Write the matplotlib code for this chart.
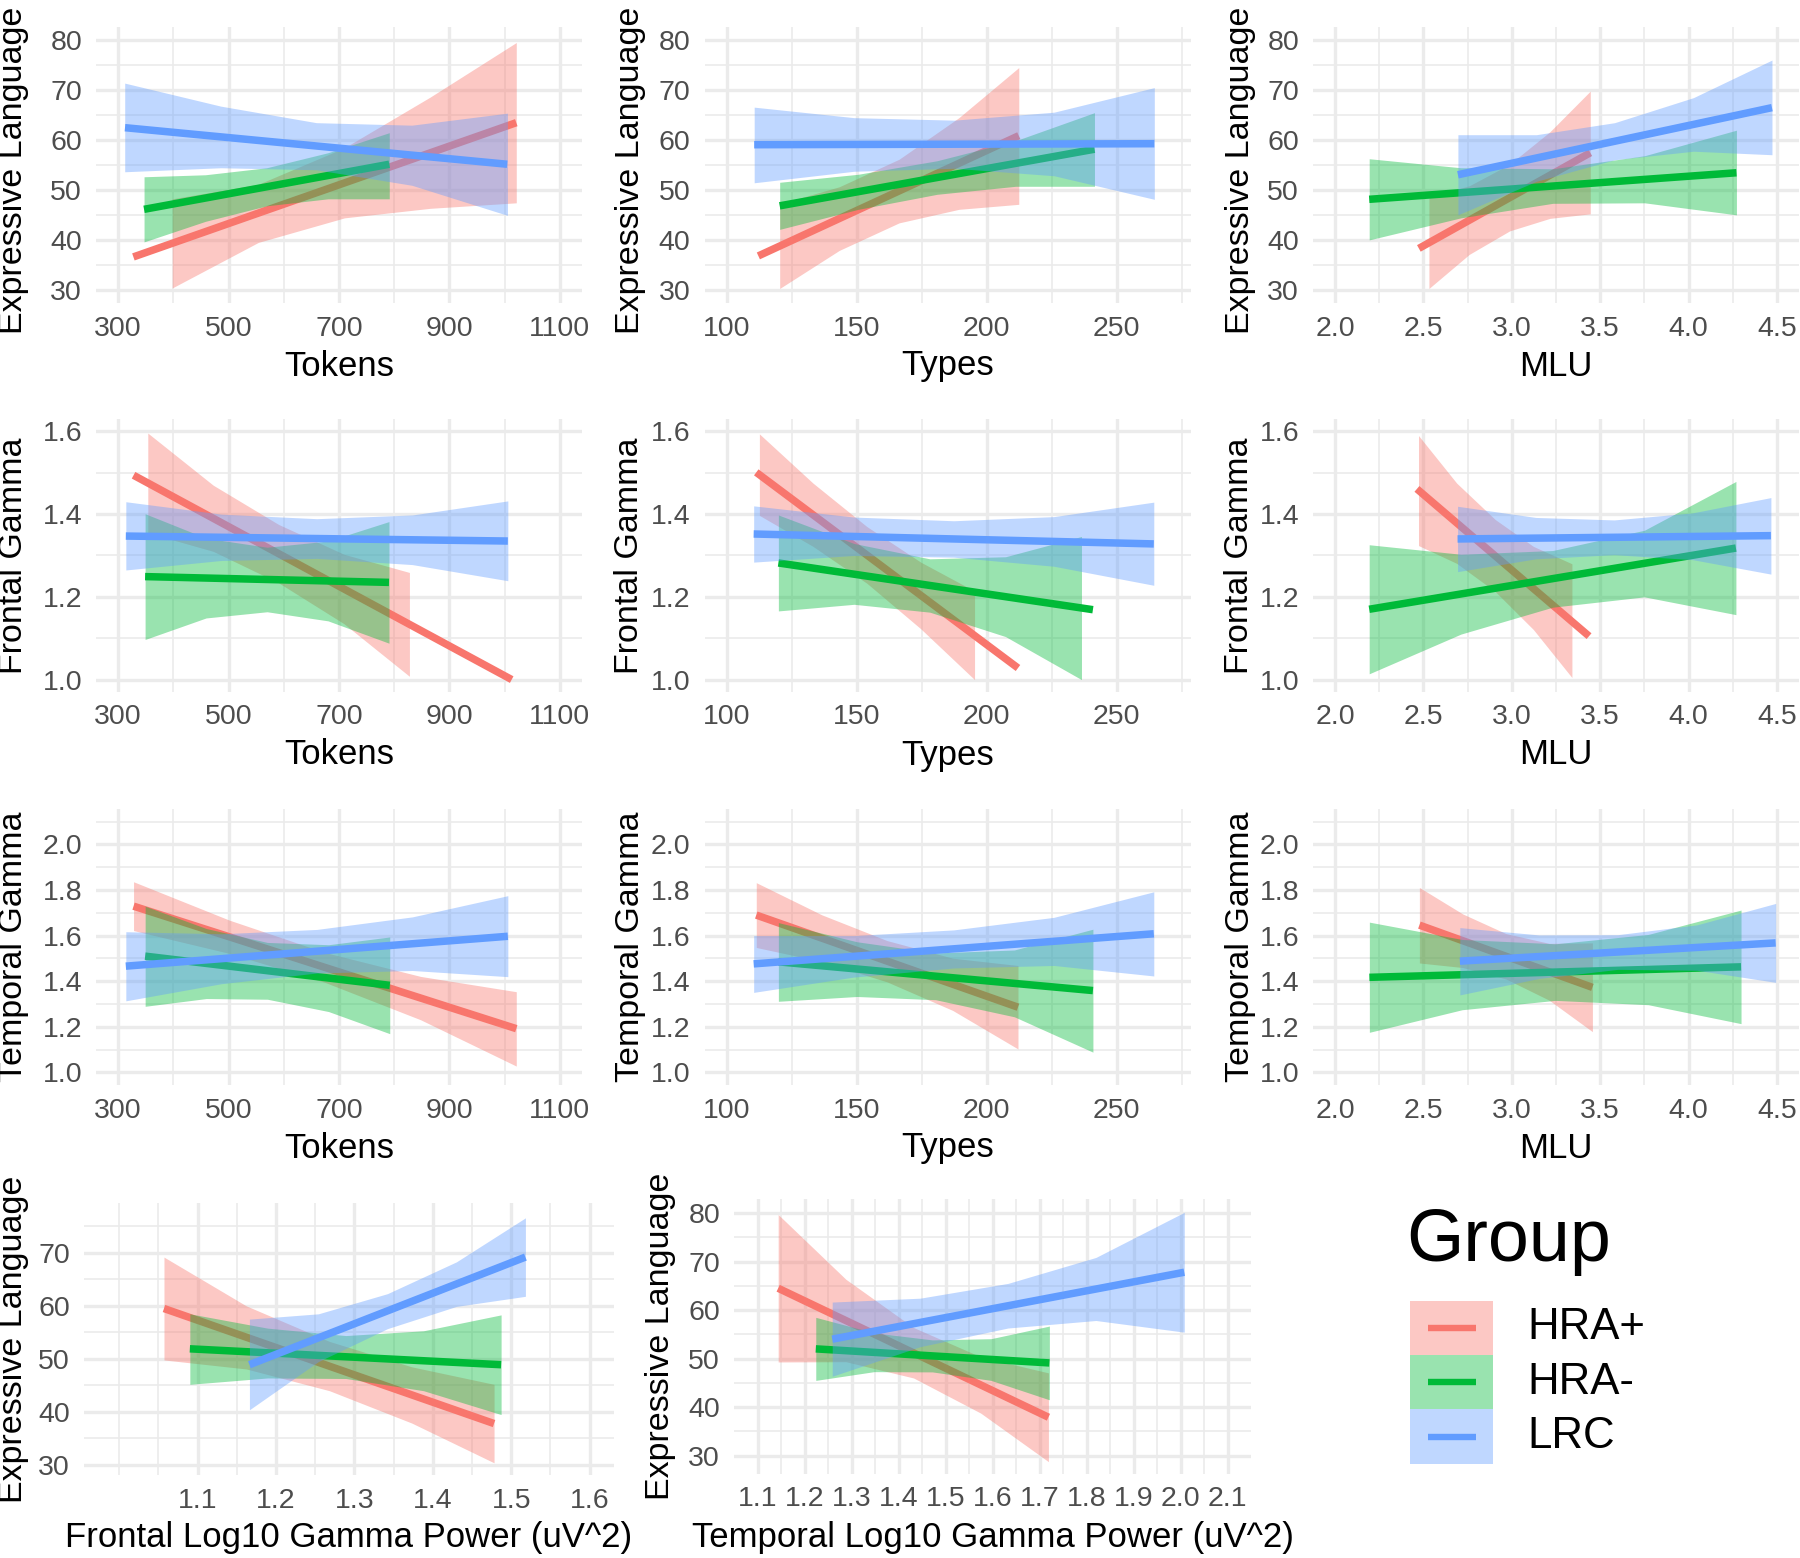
import matplotlib.pyplot as plt
from matplotlib.patches import Rectangle

plt.rcParams['font.family'] = ['Liberation Sans', 'DejaVu Sans']

groups = ['HRA+', 'HRA-', 'LRC']
colors = ['#F8766D', '#00BA38', '#619CFF']

# each fit: [x start, x end, y start, y end]; bands: x / lower / upper, one row per group
tokens_el_fit = [[327.7, 1021, 36.7, 63.5], [347, 791, 46.2, 55.2], [312.5, 1004.5, 62.5, 55.2]]
tokens_el_x = [[398, 554, 710, 865, 1021], [347, 458, 569, 680, 791], [312, 486, 659, 832, 1005]]
tokens_el_lo = [[30.5, 39.6, 44.5, 46.4, 47.5], [39.7, 43.8, 46.9, 48.3, 48.3], [53.7, 54.5, 54.1, 51.0, 45.0]]
tokens_el_hi = [[48.3, 51.2, 58.5, 68.6, 79.5], [52.7, 53.1, 54.5, 57.5, 61.5], [71.4, 66.8, 63.5, 63.0, 65.4]]

types_el_fit = [[112.2, 212.3, 36.9, 60.9], [120.4, 241.4, 46.9, 58.2], [110.6, 264.4, 59.1, 59.3]]
types_el_x = [[120.4, 143.3, 166.3, 189.3, 212.3], [120.4, 150.6, 180.9, 211.1, 241.4], [110.6, 149.0, 187.5, 225.9, 264.4]]
types_el_lo = [[30.4, 38.0, 43.5, 46.2, 47.2], [42.2, 46.2, 49.2, 50.8, 50.8], [51.5, 53.8, 54.4, 52.9, 48.2]]
types_el_hi = [[47.3, 50.7, 56.2, 64.5, 74.5], [51.6, 53.2, 55.9, 59.9, 65.5], [66.6, 64.5, 64.0, 65.6, 70.5]]

mlu_el_fit = [[2.474, 3.444, 38.4, 57.5], [2.193, 4.271, 48.2, 53.5], [2.695, 4.472, 53.1, 66.5]]
mlu_el_x = [[2.531, 2.759, 2.988, 3.216, 3.444], [2.193, 2.712, 3.232, 3.751, 4.271], [2.695, 3.139, 3.582, 4.028, 4.472]]
mlu_el_lo = [[30.4, 37.2, 41.9, 44.4, 45.3], [40.1, 44.5, 47.4, 47.5, 45.1], [45.1, 51.8, 56.1, 57.8, 57.1]]
mlu_el_hi = [[48.7, 50.9, 55.2, 61.7, 69.8], [56.3, 54.5, 54.3, 56.9, 62.0], [61.1, 61.1, 63.5, 68.5, 76.0]]

tokens_fg_fit = [[328, 1012.7, 1.494, 1.0], [348.9, 790.5, 1.249, 1.235], [314, 1005.7, 1.347, 1.335]]
tokens_fg_x = [[353.8, 472.2, 590.7, 709.1, 827.5], [348.9, 459.3, 569.7, 680.1, 790.5], [314, 486.9, 659.8, 832.8, 1005.7]]
tokens_fg_lo = [[1.355, 1.310, 1.234, 1.135, 1.008], [1.097, 1.149, 1.164, 1.142, 1.088], [1.265, 1.288, 1.293, 1.278, 1.239]]
tokens_fg_hi = [[1.596, 1.470, 1.375, 1.303, 1.259], [1.401, 1.342, 1.320, 1.335, 1.382], [1.430, 1.400, 1.389, 1.398, 1.432]]

types_fg_fit = [[111.4, 212.0, 1.501, 1.028], [119.9, 240.8, 1.282, 1.169], [110.4, 264.2, 1.352, 1.328]]
types_fg_x = [[112.6, 133.2, 153.9, 174.6, 195.3], [119.9, 149.0, 178.1, 207.2, 236.4], [110.4, 148.8, 187.3, 225.8, 264.2]]
types_fg_lo = [[1.397, 1.322, 1.233, 1.123, 1.0], [1.166, 1.182, 1.163, 1.104, 1.0], [1.284, 1.300, 1.296, 1.274, 1.228]]
types_fg_hi = [[1.594, 1.475, 1.370, 1.284, 1.214], [1.398, 1.329, 1.292, 1.297, 1.346], [1.420, 1.393, 1.384, 1.394, 1.429]]

mlu_fg_fit = [[2.463, 3.437, 1.461, 1.105], [2.193, 4.268, 1.170, 1.318], [2.693, 4.466, 1.340, 1.348]]
mlu_fg_x = [[2.472, 2.688, 2.906, 3.122, 3.340], [2.193, 2.712, 3.231, 3.750, 4.268], [2.693, 3.136, 3.579, 4.022, 4.466]]
mlu_fg_lo = [[1.324, 1.281, 1.213, 1.121, 1.005], [1.014, 1.110, 1.175, 1.200, 1.157], [1.261, 1.292, 1.302, 1.290, 1.255]]
mlu_fg_hi = [[1.590, 1.475, 1.387, 1.322, 1.280], [1.326, 1.303, 1.312, 1.361, 1.479], [1.419, 1.392, 1.386, 1.403, 1.440]]

tokens_tg_fit = [[328, 1021, 1.729, 1.192], [349, 791.9, 1.510, 1.382], [314, 1005.7, 1.466, 1.597]]
tokens_tg_x = [[328, 501.2, 674.5, 847.8, 1021], [349, 459.7, 570.4, 681.1, 791.9], [314, 486.9, 659.8, 832.8, 1005.7]]
tokens_tg_lo = [[1.622, 1.522, 1.395, 1.231, 1.028], [1.290, 1.324, 1.321, 1.267, 1.170], [1.314, 1.389, 1.436, 1.447, 1.420]]
tokens_tg_hi = [[1.836, 1.668, 1.526, 1.421, 1.354], [1.729, 1.631, 1.570, 1.560, 1.594], [1.617, 1.608, 1.627, 1.682, 1.775]]

types_tg_fit = [[111.4, 212.0, 1.690, 1.286], [119.9, 240.8, 1.485, 1.359], [110.4, 264.2, 1.476, 1.608]]
types_tg_x = [[111.4, 136.6, 161.7, 186.9, 212.0], [119.9, 150.1, 180.3, 210.6, 240.8], [110.4, 148.8, 187.3, 225.8, 264.2]]
types_tg_lo = [[1.548, 1.486, 1.397, 1.272, 1.103], [1.312, 1.333, 1.319, 1.244, 1.089], [1.351, 1.418, 1.458, 1.469, 1.423]]
types_tg_hi = [[1.832, 1.691, 1.578, 1.501, 1.469], [1.657, 1.573, 1.524, 1.537, 1.628], [1.600, 1.600, 1.625, 1.680, 1.792]]

mlu_tg_fit = [[2.477, 3.456, 1.646, 1.373], [2.194, 4.297, 1.417, 1.463], [2.706, 4.493, 1.488, 1.568]]
mlu_tg_x = [[2.477, 2.722, 2.966, 3.211, 3.456], [2.194, 2.719, 3.246, 3.772, 4.297], [2.706, 3.153, 3.600, 4.047, 4.493]]
mlu_tg_lo = [[1.480, 1.460, 1.410, 1.317, 1.179], [1.176, 1.275, 1.316, 1.297, 1.214], [1.340, 1.412, 1.452, 1.448, 1.395]]
mlu_tg_hi = [[1.811, 1.695, 1.609, 1.566, 1.568], [1.659, 1.583, 1.564, 1.605, 1.712], [1.635, 1.603, 1.604, 1.647, 1.741]]

fpow_el_fit = [[1.057, 1.478, 59.5, 37.8], [1.090, 1.487, 51.9, 48.9], [1.166, 1.518, 48.9, 69.2]]
fpow_el_x = [[1.057, 1.162, 1.268, 1.373, 1.478], [1.090, 1.189, 1.289, 1.388, 1.487], [1.166, 1.254, 1.342, 1.430, 1.518]]
fpow_el_lo = [[49.8, 48.1, 44.0, 37.9, 30.4], [45.2, 46.4, 46.3, 44.0, 39.5], [40.4, 49.5, 55.7, 59.9, 61.8]]
fpow_el_hi = [[69.2, 60.0, 53.3, 48.5, 45.2], [58.5, 55.8, 54.4, 55.3, 58.3], [57.5, 58.5, 62.3, 68.3, 76.6]]

tpow_el_fit = [[1.144, 1.719, 64.5, 37.9], [1.224, 1.721, 52.0, 49.1], [1.259, 2.008, 54.0, 67.8]]
tpow_el_x = [[1.144, 1.288, 1.432, 1.575, 1.719], [1.224, 1.348, 1.472, 1.597, 1.721], [1.259, 1.446, 1.633, 1.820, 2.008]]
tpow_el_lo = [[49.3, 49.35, 46.0, 38.75, 28.75], [45.5, 47.3, 47.25, 45.5, 41.5], [46.35, 52.45, 56.3, 57.85, 55.45]]
tpow_el_hi = [[79.7, 66.35, 56.4, 50.35, 47.05], [58.5, 55.3, 53.85, 54.1, 56.7], [61.65, 62.45, 65.5, 70.85, 80.15]]

# axis ticks
tokens_ticks = [300, 500, 700, 900, 1100]
tokens_minor = [400, 600, 800, 1000]
types_ticks = [100, 150, 200, 250]
types_minor = [125, 175, 225, 275]
mlu_ticks = [2.0, 2.5, 3.0, 3.5, 4.0, 4.5]
mlu_minor = [2.25, 2.75, 3.25, 3.75, 4.25]
el_ticks = [30, 40, 50, 60, 70, 80]
el_minor = [35, 45, 55, 65, 75]
fg_ticks = [1.0, 1.2, 1.4, 1.6]
fg_minor = [1.1, 1.3, 1.5]
tg_ticks = [1.0, 1.2, 1.4, 1.6, 1.8, 2.0]
tg_minor = [1.1, 1.3, 1.5, 1.7, 1.9, 2.1]
fpow_ticks = [1.1, 1.2, 1.3, 1.4, 1.5, 1.6]
fpow_minor = [1.0, 1.05, 1.15, 1.25, 1.35, 1.45, 1.55]
tpow_ticks = [1.1, 1.2, 1.3, 1.4, 1.5, 1.6, 1.7, 1.8, 1.9, 2.0, 2.1]
tpow_minor = [1.15, 1.25, 1.35, 1.45, 1.55, 1.65, 1.75, 1.85, 1.95, 2.05]
el4_ticks = [30, 40, 50, 60, 70]

W, H = 1800, 1558
fig = plt.figure(figsize=(W / 100, H / 100), dpi=100)


def add_panel(box, fit, bx, lo, hi, xlabel, ylabel, xlim, xt, xm, xfmt,
              ylim, yt, ym, yfmt, ylab_px, ylab_shift=0):
    left, top, right, bottom = box
    ax = fig.add_axes([left / W, 1 - bottom / H, (right - left) / W, (bottom - top) / H])
    for i in range(3):
        ax.fill_between(bx[i], lo[i], hi[i], color=colors[i], alpha=0.4, lw=0, zorder=2 + 2 * i)
        ax.plot(fit[i][:2], fit[i][2:], color=colors[i], lw=5.4,
                solid_capstyle='butt', zorder=3 + 2 * i)
    ax.set_xlim(xlim)
    ax.set_ylim(ylim)
    ax.set_xticks(xt)
    ax.set_xticklabels([xfmt.format(v) for v in xt])
    ax.set_xticks(xm, minor=True)
    ax.set_yticks(yt)
    ax.set_yticklabels([yfmt.format(v) for v in yt])
    ax.set_yticks(ym, minor=True)
    ax.set_axisbelow(True)
    ax.grid(which='major', color='#EBEBEB', lw=2.4)
    ax.grid(which='minor', color='#EBEBEB', lw=1.2)
    for s in ax.spines.values():
        s.set_visible(False)
    ax.tick_params(which='both', length=0, labelsize=20.5, labelcolor='#4D4D4D')
    ax.tick_params(axis='x', pad=9)
    ax.tick_params(axis='y', pad=10)
    ax.set_xlabel(xlabel, fontsize=25)
    ax.set_ylabel(ylabel, fontsize=24.5)
    ax.xaxis.label.set_va('center')
    ax.yaxis.label.set_va('center')
    ax.xaxis.set_label_coords(0.5, -63 / (bottom - top))
    ax.yaxis.set_label_coords((ylab_px - left) / (right - left),
                              0.5 - ylab_shift / (bottom - top))
    return ax


cols = [(96, 582, 14), (704.5, 1191, 630), (1313, 1799, 1240)]
rows = [(27.5, 303), (419, 692), (809, 1085)]
row_shift = [5, 0, 0]

xaxes = [
    ('Tokens', (260, 1140), tokens_ticks, tokens_minor, '{:.0f}'),
    ('Types', (91.5, 278.5), types_ticks, types_minor, '{:.0f}'),
    ('MLU', (1.875, 4.625), mlu_ticks, mlu_minor, '{:.1f}'),
]
yaxes = [
    ('Expressive Language', (27.5, 82.5), el_ticks, el_minor, '{:.0f}'),
    ('Frontal Gamma', (0.97, 1.63), fg_ticks, fg_minor, '{:.1f}'),
    ('Temporal Gamma', (0.945, 2.155), tg_ticks, tg_minor, '{:.1f}'),
]
grid_data = [
    [(tokens_el_fit, tokens_el_x, tokens_el_lo, tokens_el_hi),
     (types_el_fit, types_el_x, types_el_lo, types_el_hi),
     (mlu_el_fit, mlu_el_x, mlu_el_lo, mlu_el_hi)],
    [(tokens_fg_fit, tokens_fg_x, tokens_fg_lo, tokens_fg_hi),
     (types_fg_fit, types_fg_x, types_fg_lo, types_fg_hi),
     (mlu_fg_fit, mlu_fg_x, mlu_fg_lo, mlu_fg_hi)],
    [(tokens_tg_fit, tokens_tg_x, tokens_tg_lo, tokens_tg_hi),
     (types_tg_fit, types_tg_x, types_tg_lo, types_tg_hi),
     (mlu_tg_fit, mlu_tg_x, mlu_tg_lo, mlu_tg_hi)],
]

for r, (top, bottom) in enumerate(rows):
    ylab, ylim, yt, ym, yfmt = yaxes[r]
    for c, (left, right, ylab_px) in enumerate(cols):
        xlab, xlim, xt, xm, xfmt = xaxes[c]
        fit, bx, lo, hi = grid_data[r][c]
        add_panel((left, top, right, bottom), fit, bx, lo, hi, xlab, ylab,
                  xlim, xt, xm, xfmt, ylim, yt, ym, yfmt, ylab_px, row_shift[r])

add_panel((84, 1203, 614, 1475), fpow_el_fit, fpow_el_x, fpow_el_lo, fpow_el_hi,
          'Frontal Log10 Gamma Power (uV^2)', 'Expressive Language',
          (0.955, 1.631), fpow_ticks, fpow_minor, '{:.1f}',
          (28.1, 79.4), el4_ticks, el_minor, '{:.0f}', 14)
add_panel((734, 1199, 1251, 1474), tpow_el_fit, tpow_el_x, tpow_el_lo, tpow_el_hi,
          'Temporal Log10 Gamma Power (uV^2)', 'Expressive Language',
          (1.05, 2.15), tpow_ticks, tpow_minor, '{:.1f}',
          (26.2, 82.9), el_ticks, el_minor, '{:.0f}', 660)

# legend drawn in pixel coordinates
lax = fig.add_axes([1380 / W, 1 - 1500 / H, 420 / W, 320 / H])
lax.set_xlim(1380, 1800)
lax.set_ylim(1500, 1180)
lax.axis('off')
lax.text(1406, 1242, 'Group', fontsize=53, va='center', ha='left')
key_h = 54.4
for i, g in enumerate(groups):
    y0 = 1300.6 + i * key_h
    lax.add_patch(Rectangle((1410, y0), 83, key_h, facecolor=colors[i], alpha=0.4, lw=0))
    lax.plot([1428, 1476], [y0 + key_h / 2] * 2, color=colors[i], lw=4.6, solid_capstyle='butt')
    lax.text(1527, y0 + key_h / 2, g, fontsize=31.5, va='center', ha='left')

fig.savefig('out.png', dpi=100)
